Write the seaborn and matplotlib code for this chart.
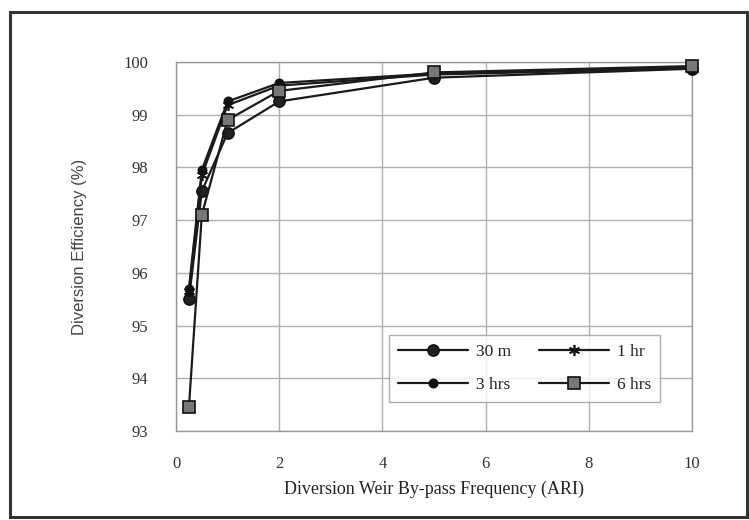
import matplotlib
matplotlib.use("Agg")
import matplotlib.pyplot as plt
import seaborn as sns
import pandas as pd
from matplotlib.patches import Rectangle

# ---- data ----
ari = [0.25, 0.5, 1, 2, 5, 10]
series_names = ["30 m", "1 hr", "3 hrs", "6 hrs"]
eff_30m = [95.5, 97.55, 98.65, 99.25, 99.70, 99.87]
eff_1hr = [95.65, 97.85, 99.18, 99.55, 99.76, 99.88]
eff_3hrs = [95.7, 97.95, 99.25, 99.60, 99.78, 99.90]
eff_6hrs = [93.45, 97.1, 98.9, 99.45, 99.80, 99.92]
x_ticks = [0, 2, 4, 6, 8, 10]
y_ticks = [93, 94, 95, 96, 97, 98, 99, 100]

rows = []
for name, vals in zip(series_names, [eff_30m, eff_1hr, eff_3hrs, eff_6hrs]):
    for xv, yv in zip(ari, vals):
        rows.append({"ARI": xv, "Efficiency": yv, "Duration": name})
df = pd.DataFrame(rows)

sns.set_theme(style="white")
plt.rcParams["font.family"] = ["Liberation Serif", "DejaVu Serif"]

fig = plt.figure(figsize=(7.49, 5.20), dpi=100)
ax = fig.add_axes([0.235, 0.171, 0.689, 0.710])

markers = {"30 m": "o", "1 hr": (6, 2, 0), "3 hrs": "o", "6 hrs": "s"}
sizes_map = {"30 m": 8, "1 hr": 8, "3 hrs": 6, "6 hrs": 9}
face = {"30 m": "#222222", "1 hr": "#222222", "3 hrs": "#111111", "6 hrs": "#777777"}

for name in series_names:
    sub = df[df["Duration"] == name]
    sns.lineplot(data=sub, x="ARI", y="Efficiency", ax=ax, color="#1a1a1a",
                 linewidth=1.6, marker=markers[name], markersize=sizes_map[name],
                 markerfacecolor=face[name], markeredgecolor="#111111",
                 markeredgewidth=1.2, label=name, estimator=None, sort=False,
                 clip_on=False, zorder=3)

ax.set_xlim(0, 10)
ax.set_ylim(93, 100)
ax.set_xticks(x_ticks)
ax.set_yticks(y_ticks)
ax.tick_params(axis="x", labelsize=12, colors="#333333", length=0, pad=18)
ax.tick_params(axis="y", labelsize=12, colors="#333333", length=0, pad=20)
ax.grid(True, color="#b0b0b0", linewidth=1.0)
for s in ax.spines.values():
    s.set_color("#9a9a9a")
    s.set_linewidth(1.0)

ax.set_xlabel("Diversion Weir By-pass Frequency (ARI)", fontsize=13,
              color="#222222", labelpad=6)
ax.set_ylabel("Diversion Efficiency (%)", fontsize=12, color="#444444",
              family=["Liberation Sans", "DejaVu Sans"], labelpad=26)

handles, labels = ax.get_legend_handles_labels()
order = [labels.index(n) for n in ["30 m", "3 hrs", "1 hr", "6 hrs"]]
leg = ax.legend([handles[i] for i in order], [labels[i] for i in order],
                ncol=2, loc="lower right", bbox_to_anchor=(0.955, 0.055),
                fontsize=12.5, frameon=True, fancybox=False, edgecolor="#999999",
                handlelength=4.0, handletextpad=0.5, columnspacing=1.6,
                borderpad=0.5, labelspacing=1.0)
leg.get_frame().set_linewidth(1.0)
for t in leg.get_texts():
    t.set_color("#222222")

# outer frame
fig.patches.append(Rectangle((0.014, 0.005), 0.983, 0.972, transform=fig.transFigure,
                             fill=False, edgecolor="#333333", linewidth=2.2))

fig.savefig("out.png", dpi=100)
